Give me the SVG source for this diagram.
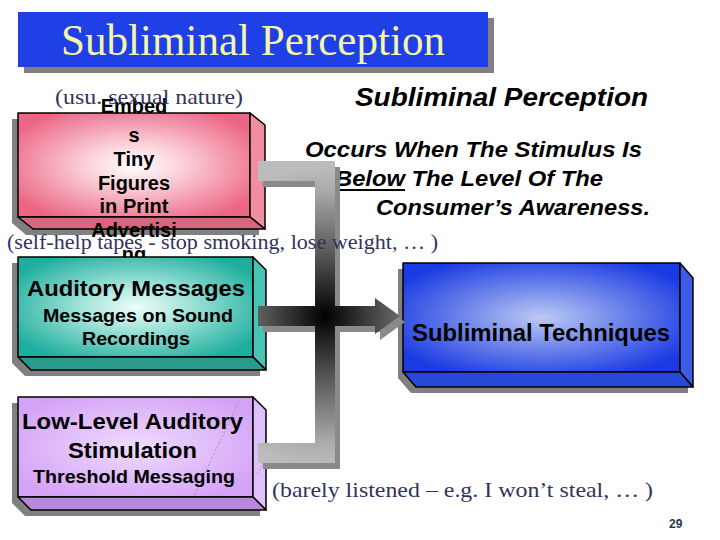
<svg xmlns="http://www.w3.org/2000/svg" width="720" height="540" viewBox="0 0 720 540">
<defs>
<radialGradient id="gPink" cx="0.5" cy="0.5" r="0.6"><stop offset="0" stop-color="#ffffff"/><stop offset="0.35" stop-color="#fbd0d8"/><stop offset="1" stop-color="#ec6684"/></radialGradient>
<radialGradient id="gTeal" cx="0.5" cy="0.5" r="0.6"><stop offset="0" stop-color="#eefcf9"/><stop offset="0.35" stop-color="#a8e6dc"/><stop offset="1" stop-color="#1eae9e"/></radialGradient>
<radialGradient id="gPurple" cx="0.5" cy="0.5" r="0.6"><stop offset="0" stop-color="#efdcff"/><stop offset="1" stop-color="#d4a2f6"/></radialGradient>
<radialGradient id="gBlue" cx="0.5" cy="0.5" r="0.6"><stop offset="0" stop-color="#bccaf4"/><stop offset="0.4" stop-color="#7a90ec"/><stop offset="1" stop-color="#1a3ae2"/></radialGradient>
<radialGradient id="gBar" gradientUnits="userSpaceOnUse" cx="325" cy="316" r="150"><stop offset="0" stop-color="#000000"/><stop offset="0.4" stop-color="#555555"/><stop offset="0.85" stop-color="#acacac"/><stop offset="1" stop-color="#bcbcbc"/></radialGradient>
<style>
.edge{stroke:#000;stroke-width:1.5;stroke-linejoin:round}
.shadow{fill:#808080}
.bx{font-family:"Liberation Sans",Arial,sans-serif;font-weight:bold;fill:#000}
.note{font-family:"Liberation Serif","Times New Roman",serif;font-size:22px;fill:#33335f}
.hd{font-family:"Liberation Sans",Arial,sans-serif;font-weight:bold;font-style:italic;fill:#000}
.barsh{fill:#8a8a8a}
.bar{fill:url(#gBar)}
</style>
</defs>
<rect width="720" height="540" fill="#ffffff"/>

<g id="title">
<rect x="24" y="18" width="470" height="55" fill="#808080"/>
<rect x="18" y="12" width="470" height="55" fill="#1e40e6"/>
<text x="61" y="55" font-family="'Liberation Serif','Times New Roman',serif" font-size="44" fill="#f6f6a8" textLength="384" lengthAdjust="spacingAndGlyphs">Subliminal Perception</text>
</g>

<g id="node-embeds">
<polygon class="shadow" points="12,119 244,119 259,131 259,235 26,235 12,223"/>
<rect class="edge" x="18" y="113" width="232" height="104" fill="url(#gPink)"/>
<polygon class="edge" points="250,113 265,125 265,229 250,217" fill="#f28ca0"/>
<polygon class="edge" points="18,217 250,217 265,229 33,229" fill="#d8667e"/>
<g class="bx" font-size="20" text-anchor="middle">
<text x="134" y="113">Embed</text>
<text x="134" y="142">s</text>
<text x="134" y="166">Tiny</text>
<text x="134" y="190">Figures</text>
<text x="134" y="213">in Print</text>
<text x="134" y="237">Advertisi</text>
<text x="134" y="261">ng</text>
</g>
</g>

<g id="node-auditory">
<polygon class="shadow" points="12,263 247,263 260,276 260,376 25,376 12,363"/>
<rect class="edge" x="18" y="257" width="235" height="100" fill="url(#gTeal)"/>
<polygon class="edge" points="253,257 266,270 266,370 253,357" fill="#48c4b4"/>
<polygon class="edge" points="18,357 253,357 266,370 31,370" fill="#2a9a8a"/>
<text class="bx" x="27" y="296" font-size="22" textLength="218" lengthAdjust="spacingAndGlyphs">Auditory Messages</text>
<text class="bx" x="43" y="322" font-size="19" textLength="190" lengthAdjust="spacingAndGlyphs">Messages on Sound</text>
<text class="bx" x="82" y="345" font-size="19" textLength="108" lengthAdjust="spacingAndGlyphs">Recordings</text>
</g>

<g id="node-lowlevel">
<polygon class="shadow" points="12,403 247,403 260,416 260,516 25,516 12,503"/>
<rect class="edge" x="18" y="397" width="235" height="100" fill="url(#gPurple)"/>
<polygon class="edge" points="253,397 266,410 266,510 253,497" fill="#e0c0fc"/>
<polygon class="edge" points="18,497 253,497 266,510 31,510" fill="#b888dc"/>
<line x1="240" y1="399" x2="194" y2="496" stroke="#9a80b8" stroke-width="0.8" stroke-dasharray="2,2"/>
<line x1="264" y1="462" x2="256" y2="476" stroke="#9a80b8" stroke-width="0.8" stroke-dasharray="2,2"/>
<text class="bx" x="22" y="429" font-size="22" textLength="221" lengthAdjust="spacingAndGlyphs">Low-Level Auditory</text>
<text class="bx" x="68" y="458" font-size="22" textLength="129" lengthAdjust="spacingAndGlyphs">Stimulation</text>
<text class="bx" x="33" y="483" font-size="19" textLength="202" lengthAdjust="spacingAndGlyphs">Threshold Messaging</text>
</g>

<g id="node-techniques">
<polygon class="shadow" points="398,269 675,269 688,284 688,393 411,393 398,378"/>
<rect class="edge" x="403" y="263" width="277" height="109" fill="url(#gBlue)"/>
<polygon class="edge" points="680,263 693,278 693,387 680,372" fill="#3c5ce8"/>
<polygon class="edge" points="403,372 680,372 693,387 416,387" fill="#2848d8"/>
<text class="bx" x="412" y="341" font-size="23" textLength="258" lengthAdjust="spacingAndGlyphs" fill="#10104a">Subliminal Techniques</text>
</g>

<g id="heading">
<text class="hd" x="355" y="106" font-size="26" textLength="293" lengthAdjust="spacingAndGlyphs">Subliminal Perception</text>
<text class="hd" x="305" y="157" font-size="22" textLength="337" lengthAdjust="spacingAndGlyphs">Occurs When The Stimulus Is</text>
<text class="hd" x="335" y="186" font-size="22" textLength="268" lengthAdjust="spacingAndGlyphs">Below The Level Of The</text>
<line x1="335" y1="190" x2="405" y2="190" stroke="#000" stroke-width="2"/>
<text class="hd" x="376" y="215" font-size="22" textLength="274" lengthAdjust="spacingAndGlyphs">Consumer’s Awareness.</text>
</g>

<g id="connectors">
<g class="barsh" transform="translate(5,6)">
<rect x="258" y="161" width="77" height="20"/>
<rect x="315" y="161" width="20" height="302"/>
<rect x="258" y="443" width="77" height="20"/>
<rect x="258" y="306" width="117" height="20"/>
<polygon points="375,298 400,316 375,334"/>
</g>
<g class="bar">
<rect x="258" y="161" width="77" height="20"/>
<rect x="315" y="161" width="20" height="302"/>
<rect x="258" y="443" width="77" height="20"/>
<rect x="258" y="306" width="117" height="20"/>
<polygon points="375,298 400,316 375,334"/>
</g>
</g>

<g id="notes">
<text class="note" x="55" y="104" textLength="188" lengthAdjust="spacingAndGlyphs">(usu. sexual nature)</text>
<text class="note" x="7" y="249" textLength="431" lengthAdjust="spacingAndGlyphs">(self-help tapes - stop smoking, lose weight, … )</text>
<text class="note" x="272" y="497" textLength="381" lengthAdjust="spacingAndGlyphs">(barely listened – e.g. I won’t steal, … )</text>
<text x="669" y="528" font-family="'Liberation Sans',Arial,sans-serif" font-weight="bold" font-size="12" fill="#1e3c50">29</text>
</g>
</svg>
